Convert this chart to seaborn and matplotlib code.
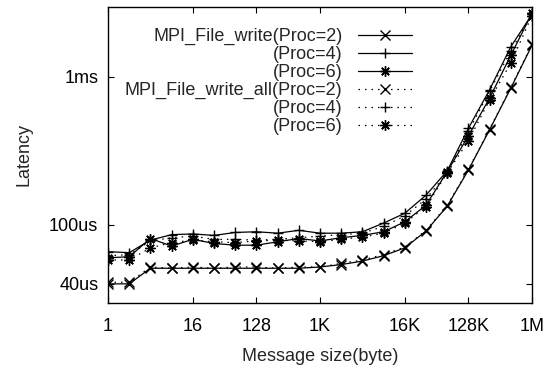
import numpy as np
import pandas as pd
import matplotlib
matplotlib.use("Agg")
import matplotlib.pyplot as plt
import seaborn as sns

# message sizes 2^0 .. 2^20 bytes
exponents = list(range(21))
sizes = [2 ** e for e in exponents]

# latency values in microseconds
write_p2 = [40, 40, 51, 51, 51, 51, 51, 51, 51, 51, 52, 54, 57, 62, 70, 91, 134, 235, 440, 840, 1640]
write_p4 = [66, 65, 79, 86, 87, 85, 89, 90, 88, 92, 88, 88, 90, 103, 120, 159, 232, 450, 820, 1600, 2650]
write_p6 = [60, 61, 81, 72, 80, 75, 73, 73, 77, 81, 78, 82, 85, 90, 105, 136, 229, 400, 720, 1400, 2700]
wall_p2 = [41, 41, 52, 51, 52, 51, 52, 52, 51, 52, 52, 55, 58, 63, 71, 92, 136, 238, 445, 850, 1660]
wall_p4 = [62, 63, 78, 82, 84, 80, 80, 79, 80, 82, 84, 86, 88, 98, 115, 150, 225, 430, 800, 1500, 2650]
wall_p6 = [58, 58, 70, 76, 79, 77, 76, 78, 79, 78, 77, 80, 83, 88, 103, 133, 225, 370, 700, 1240, 2600]

labels = ["MPI_File_write(Proc=2)", "(Proc=4)", "(Proc=6)",
          "MPI_File_write_all(Proc=2)", "(Proc=4)", "(Proc=6)"]
series = [write_p2, write_p4, write_p6, wall_p2, wall_p4, wall_p6]
markers = ["x", "+", (8, 2, 0), "x", "+", (8, 2, 0)]
DOT = (0, (1.2, 4.0))
styles = ["-", "-", "-", DOT, DOT, DOT]

x_ticks = [1, 16, 128, 1024, 16384, 131072, 1048576]
x_ticklabels = ["1", "16", "128", "1K", "16K", "128K", "1M"]
y_ticks = [40, 100, 1000]
y_ticklabels = ["40us", "100us", "1ms"]

FS = 13

sns.set_style("ticks")
plt.rcParams["font.family"] = ["Liberation Sans", "DejaVu Sans"]
plt.rcParams["font.size"] = FS

fig = plt.figure(figsize=(5.5, 3.68), dpi=100)
ax = fig.add_axes([108 / 550, 1 - 303 / 368, (532 - 108) / 550, (303 - 7) / 368])

handles = []
for lab, vals, mk, ls in zip(labels, series, markers, styles):
    df = pd.DataFrame({"size": sizes, "latency": vals})
    sns.lineplot(data=df, x="size", y="latency", ax=ax, color="black",
                 marker=mk, markersize=7.5, markeredgewidth=1.0,
                 markeredgecolor="black", markerfacecolor="black",
                 linestyle=ls, linewidth=0.9, legend=False)
    handles.append(ax.lines[-1])

ax.set_xscale("log", base=2)
ax.set_yscale("log")
ax.set_xlim(1, 2 ** 20)
ax.set_ylim(29.7, 2970)
ax.set_xticks(x_ticks)
ax.set_xticklabels(x_ticklabels)
ax.set_yticks(y_ticks)
ax.set_yticklabels(y_ticklabels)
ax.minorticks_off()
ax.tick_params(axis="both", which="major", direction="in", length=4, width=0.8,
               top=True, right=True, labelsize=FS, colors="black")
ax.tick_params(axis="x", pad=11)
ax.tick_params(axis="y", pad=7)
for s in ax.spines.values():
    s.set_visible(True)
    s.set_color("black")
    s.set_linewidth(1.0)

ax.set_xlabel("Message size(byte)", fontsize=FS, labelpad=9)
ax.set_ylabel("Latency", fontsize=FS, labelpad=12)

leg = ax.legend(handles, labels, loc="upper right",
                bbox_to_anchor=(412 / 550, 1 - 28 / 368),
                bbox_transform=fig.transFigure, frameon=False, markerfirst=False,
                handlelength=3.0, handletextpad=0.85, labelspacing=0.05,
                borderpad=0, borderaxespad=0, fontsize=FS)
try:
    col = leg._legend_box._children[-1]._children[0]
    col.align = "right"
except Exception:
    pass

fig.savefig("out.png", dpi=100)
